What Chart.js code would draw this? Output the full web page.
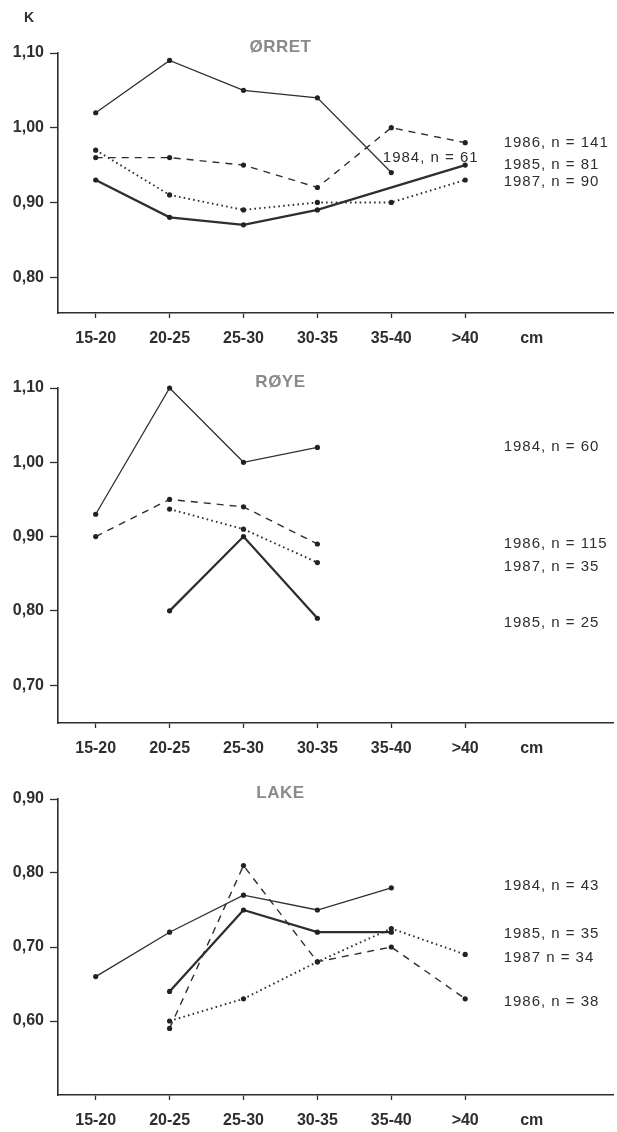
<!DOCTYPE html>
<html>
<head>
<meta charset="utf-8">
<script src="https://cdn.jsdelivr.net/npm/chart.js@4.4.1/dist/chart.umd.min.js"></script>
<style>
  body { margin: 0; background: #fff; }
  canvas { position: absolute; left: 0; }
</style>
</head>
<body>
<canvas id="orret" width="617" height="345" style="top:0px"></canvas>
<canvas id="roye" width="617" height="415" style="top:345px"></canvas>
<canvas id="lake" width="617" height="372" style="top:760px"></canvas>
<script>
// Lengdegrupper (x-akse)
const categories = ["15-20", "20-25", "25-30", "30-35", "35-40", ">40"];
const unitLabel = "cm";

// ØRRET - kondisjonsfaktor K
const orret1984 = [1.02, 1.09, 1.05, 1.04, 0.94, null];
const orret1985 = [0.93, 0.88, 0.87, 0.89, null, 0.95];
const orret1986 = [0.96, 0.96, 0.95, 0.92, 1.00, 0.98];
const orret1987 = [0.97, 0.91, 0.89, 0.90, 0.90, 0.93];
const orretNames = ["1984, n = 61", "1985, n = 81", "1986, n = 141", "1987, n = 90"];
const orretTicks = [0.80, 0.90, 1.00, 1.10];

// RØYE
const roye1984 = [0.93, 1.10, 1.00, 1.02, null, null];
const roye1985 = [null, 0.80, 0.90, 0.79, null, null];
const roye1986 = [0.90, 0.95, 0.94, 0.89, null, null];
const roye1987 = [null, 0.937, 0.91, 0.865, null, null];
const royeNames = ["1984, n = 60", "1985, n = 25", "1986, n = 115", "1987, n = 35"];
const royeTicks = [0.70, 0.80, 0.90, 1.00, 1.10];

// LAKE
const lake1984 = [0.66, 0.72, 0.77, 0.75, 0.78, null];
const lake1985 = [null, 0.64, 0.75, 0.72, 0.72, null];
const lake1986 = [null, 0.59, 0.81, 0.68, 0.70, 0.63];
const lake1987 = [null, 0.60, 0.63, 0.68, 0.725, 0.69];
const lakeNames = ["1984, n = 43", "1985, n = 35", "1986, n = 38", "1987 n = 34"];
const lakeTicks = [0.60, 0.70, 0.80, 0.90];

const INK = "#2e2e2e";
const FONT = "'Liberation Sans', Arial, sans-serif";
const CM_POS = 5.9;

// linjestil per år: 1984 tynn, 1985 tykk, 1986 stiplet, 1987 prikket
const yearStyles = [
  { borderWidth: 1.3, borderDash: [] },
  { borderWidth: 2.3, borderDash: [] },
  { borderWidth: 1.4, borderDash: [7, 6] },
  { borderWidth: 1.9, borderDash: [1.6, 3.2] }
];

function toPoints(values) {
  return values.map((v, i) => ({ x: i, y: v }));
}

// tekst på figuren (tittel, K, årsetiketter)
const annotate = {
  id: "annotate",
  afterDraw(chart, args, opts) {
    const { ctx, chartArea, scales } = chart;
    ctx.save();
    ctx.textBaseline = "middle";
    ctx.fillStyle = "#8a8a8a";
    ctx.textAlign = "center";
    ctx.font = "600 17px " + FONT;
    ctx.letterSpacing = "0.5px";
    ctx.fillText(opts.title, scales.x.getPixelForValue(2.5), chartArea.top - 6);
    if (opts.showK) {
      ctx.fillStyle = INK;
      ctx.font = "bold 14px " + FONT;
      ctx.letterSpacing = "0px";
      ctx.fillText("K", 29, 18);
    }
    ctx.fillStyle = INK;
    ctx.textAlign = "left";
    ctx.font = "15px " + FONT;
    ctx.letterSpacing = "1px";
    opts.labels.forEach(l => {
      ctx.fillText(l.text, scales.x.getPixelForValue(l.x), scales.y.getPixelForValue(l.y));
    });
    ctx.restore();
  }
};

function makePanel(id, cfg) {
  const canvas = document.getElementById(id);
  const H = canvas.height;
  const xLabels = [...categories, unitLabel];
  const series = [cfg.s84, cfg.s85, cfg.s86, cfg.s87];

  new Chart(canvas, {
    type: "line",
    data: {
      datasets: series.map((s, i) => ({
        label: cfg.names[i],
        data: toPoints(s),
        borderColor: INK,
        backgroundColor: INK,
        borderWidth: yearStyles[i].borderWidth,
        borderDash: yearStyles[i].borderDash,
        pointRadius: 2.6,
        pointBorderWidth: 0,
        pointBackgroundColor: "#222",
        spanGaps: true,
        tension: 0,
        clip: false
      }))
    },
    options: {
      responsive: false,
      animation: false,
      layout: { padding: { top: cfg.top, left: 0, right: 0, bottom: 0 } },
      plugins: {
        legend: { display: false },
        tooltip: { enabled: false },
        annotate: { title: cfg.title, showK: cfg.showK, labels: cfg.labels }
      },
      scales: {
        x: {
          type: "linear",
          min: -0.51,
          max: 7.0,
          afterBuildTicks: s => { s.ticks = [0, 1, 2, 3, 4, 5, CM_POS].map(v => ({ value: v })); },
          afterFit: s => { s.height = H - cfg.bottom; },
          grid: {
            drawOnChartArea: false,
            tickLength: 5,
            tickWidth: 1.3,
            tickColor: c => (c.index < categories.length ? INK : "rgba(0,0,0,0)")
          },
          border: { color: INK, width: 1.6 },
          ticks: {
            autoSkip: false,
            maxRotation: 0,
            padding: 11,
            color: INK,
            font: { family: FONT, size: 16, weight: "bold" },
            callback: (v, i) => xLabels[i]
          }
        },
        y: {
          min: cfg.min,
          max: cfg.max,
          afterBuildTicks: s => { s.ticks = cfg.ticks.map(v => ({ value: v })); },
          afterFit: s => { s.width = 58; },
          grid: { drawOnChartArea: false, tickLength: 8, tickWidth: 1.3, tickColor: INK },
          border: { color: INK, width: 1.6 },
          ticks: {
            padding: 6,
            color: INK,
            font: { family: FONT, size: 16, weight: "bold" },
            callback: v => v.toFixed(2).replace(".", ",")
          }
        }
      }
    },
    plugins: [annotate]
  });
}

makePanel("orret", {
  title: "ØRRET", showK: true, top: 53, bottom: 313,
  min: 0.752, max: 1.10, ticks: orretTicks,
  s84: orret1984, s85: orret1985, s86: orret1986, s87: orret1987, names: orretNames,
  labels: [
    { text: orretNames[0], x: 3.885, y: 0.959 },
    { text: orretNames[2], x: 5.52, y: 0.980 },
    { text: orretNames[1], x: 5.52, y: 0.950 },
    { text: orretNames[3], x: 5.52, y: 0.927 }
  ]
});

makePanel("roye", {
  title: "RØYE", showK: false, top: 43, bottom: 378,
  min: 0.649, max: 1.10, ticks: royeTicks,
  s84: roye1984, s85: roye1985, s86: roye1986, s87: roye1987, names: royeNames,
  labels: [
    { text: royeNames[0], x: 5.52, y: 1.021 },
    { text: royeNames[2], x: 5.52, y: 0.890 },
    { text: royeNames[3], x: 5.52, y: 0.859 },
    { text: royeNames[1], x: 5.52, y: 0.784 }
  ]
});

makePanel("lake", {
  title: "LAKE", showK: false, top: 39, bottom: 335,
  min: 0.50, max: 0.90, ticks: lakeTicks,
  s84: lake1984, s85: lake1985, s86: lake1986, s87: lake1987, names: lakeNames,
  labels: [
    { text: lakeNames[0], x: 5.52, y: 0.782 },
    { text: lakeNames[1], x: 5.52, y: 0.718 },
    { text: lakeNames[3], x: 5.52, y: 0.686 },
    { text: lakeNames[2], x: 5.52, y: 0.626 }
  ]
});
</script>
</body>
</html>
